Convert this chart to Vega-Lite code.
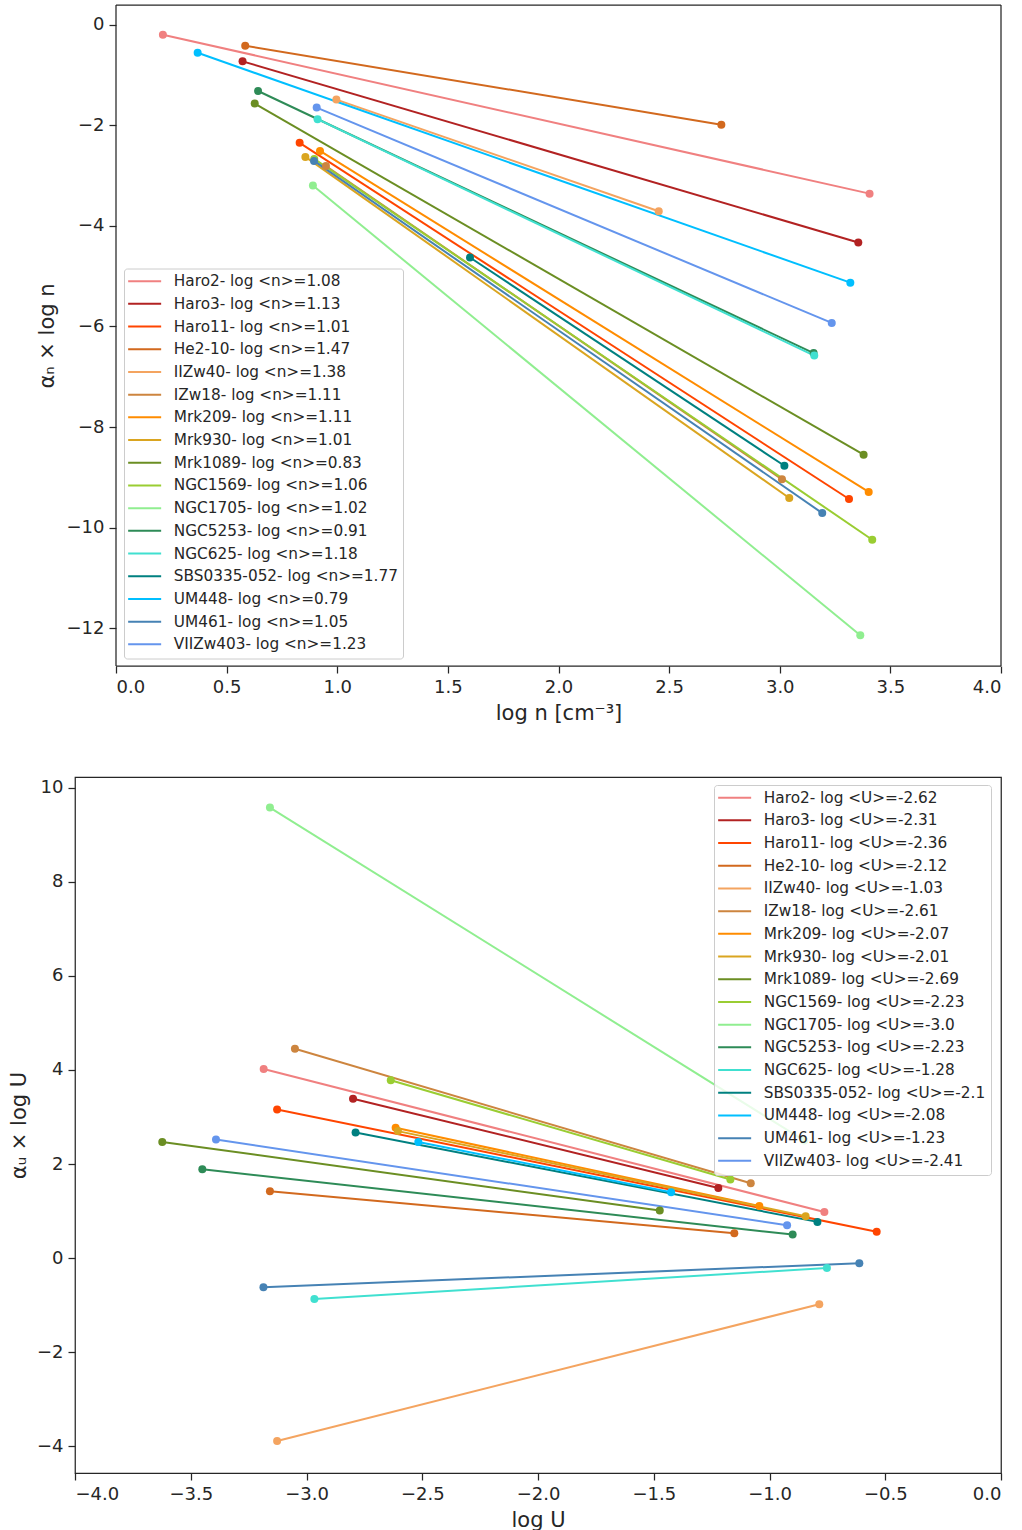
{
  "$schema": "https://vega.github.io/schema/vega-lite/v6.json",
  "padding": {"left": 4, "top": 4, "right": 0, "bottom": 0},
  "background": "white",
  "config": {
    "font": "DejaVu Sans",
    "view": {"stroke": "#262626", "strokeWidth": 1.25},
    "axis": {"grid": false, "domain": false, "tickColor": "#262626", "tickSize": 7, "tickWidth": 1.25, "labelColor": "#262626", "labelFontSize": 18, "titleColor": "#262626", "titleFontSize": 21, "titleFontWeight": "normal", "labelPadding": 5},
    "legend": {"title": null, "symbolType": "M-3,0H3", "symbolSize": 121, "symbolStrokeWidth": 2, "symbolOffset": 8, "labelFontSize": 15.3, "labelColor": "#262626", "labelOffset": 21.5, "padding": 5, "rowPadding": 6.7, "fillColor": "rgba(255,255,255,0.8)", "strokeColor": "#cccccc", "cornerRadius": 3, "labelLimit": 400}
  },
  "datasets": {
    "n": [
      {"galaxy": "Haro2", "label": "Haro2- log <n>=1.08", "x": 0.212, "y": -0.20},
      {"galaxy": "Haro2", "label": "Haro2- log <n>=1.08", "x": 3.406, "y": -3.36},
      {"galaxy": "Haro3", "label": "Haro3- log <n>=1.13", "x": 0.572, "y": -0.73},
      {"galaxy": "Haro3", "label": "Haro3- log <n>=1.13", "x": 3.355, "y": -4.33},
      {"galaxy": "Haro11", "label": "Haro11- log <n>=1.01", "x": 0.830, "y": -2.35},
      {"galaxy": "Haro11", "label": "Haro11- log <n>=1.01", "x": 3.313, "y": -9.43},
      {"galaxy": "He2-10", "label": "He2-10- log <n>=1.47", "x": 0.584, "y": -0.42},
      {"galaxy": "He2-10", "label": "He2-10- log <n>=1.47", "x": 2.736, "y": -1.99},
      {"galaxy": "IIZw40", "label": "IIZw40- log <n>=1.38", "x": 0.996, "y": -1.49},
      {"galaxy": "IIZw40", "label": "IIZw40- log <n>=1.38", "x": 2.453, "y": -3.71},
      {"galaxy": "IZw18", "label": "IZw18- log <n>=1.11", "x": 0.949, "y": -2.81},
      {"galaxy": "IZw18", "label": "IZw18- log <n>=1.11", "x": 3.010, "y": -9.04},
      {"galaxy": "Mrk209", "label": "Mrk209- log <n>=1.11", "x": 0.922, "y": -2.51},
      {"galaxy": "Mrk209", "label": "Mrk209- log <n>=1.11", "x": 3.402, "y": -9.29},
      {"galaxy": "Mrk930", "label": "Mrk930- log <n>=1.01", "x": 0.856, "y": -2.63},
      {"galaxy": "Mrk930", "label": "Mrk930- log <n>=1.01", "x": 3.043, "y": -9.41},
      {"galaxy": "Mrk1089", "label": "Mrk1089- log <n>=0.83", "x": 0.627, "y": -1.57},
      {"galaxy": "Mrk1089", "label": "Mrk1089- log <n>=0.83", "x": 3.379, "y": -8.55},
      {"galaxy": "NGC1569", "label": "NGC1569- log <n>=1.06", "x": 0.896, "y": -2.67},
      {"galaxy": "NGC1569", "label": "NGC1569- log <n>=1.06", "x": 3.418, "y": -10.24},
      {"galaxy": "NGC1705", "label": "NGC1705- log <n>=1.02", "x": 0.890, "y": -3.20},
      {"galaxy": "NGC1705", "label": "NGC1705- log <n>=1.02", "x": 3.364, "y": -12.14},
      {"galaxy": "NGC5253", "label": "NGC5253- log <n>=0.91", "x": 0.642, "y": -1.32},
      {"galaxy": "NGC5253", "label": "NGC5253- log <n>=0.91", "x": 3.153, "y": -6.53},
      {"galaxy": "NGC625", "label": "NGC625- log <n>=1.18", "x": 0.911, "y": -1.88},
      {"galaxy": "NGC625", "label": "NGC625- log <n>=1.18", "x": 3.156, "y": -6.58},
      {"galaxy": "SBS0335-052", "label": "SBS0335-052- log <n>=1.77", "x": 1.600, "y": -4.63},
      {"galaxy": "SBS0335-052", "label": "SBS0335-052- log <n>=1.77", "x": 3.021, "y": -8.77},
      {"galaxy": "UM448", "label": "UM448- log <n>=0.79", "x": 0.369, "y": -0.56},
      {"galaxy": "UM448", "label": "UM448- log <n>=0.79", "x": 3.319, "y": -5.13},
      {"galaxy": "UM461", "label": "UM461- log <n>=1.05", "x": 0.895, "y": -2.71},
      {"galaxy": "UM461", "label": "UM461- log <n>=1.05", "x": 3.192, "y": -9.71},
      {"galaxy": "VIIZw403", "label": "VIIZw403- log <n>=1.23", "x": 0.907, "y": -1.65},
      {"galaxy": "VIIZw403", "label": "VIIZw403- log <n>=1.23", "x": 3.235, "y": -5.93}
    ],
    "U": [
      {"galaxy": "Haro2", "label": "Haro2- log <U>=-2.62", "x": -3.185, "y": 4.02},
      {"galaxy": "Haro2", "label": "Haro2- log <U>=-2.62", "x": -0.763, "y": 0.98},
      {"galaxy": "Haro3", "label": "Haro3- log <U>=-2.31", "x": -2.799, "y": 3.39},
      {"galaxy": "Haro3", "label": "Haro3- log <U>=-2.31", "x": -1.221, "y": 1.49},
      {"galaxy": "Haro11", "label": "Haro11- log <U>=-2.36", "x": -3.127, "y": 3.16},
      {"galaxy": "Haro11", "label": "Haro11- log <U>=-2.36", "x": -0.537, "y": 0.56},
      {"galaxy": "He2-10", "label": "He2-10- log <U>=-2.12", "x": -3.158, "y": 1.42},
      {"galaxy": "He2-10", "label": "He2-10- log <U>=-2.12", "x": -1.152, "y": 0.53},
      {"galaxy": "IIZw40", "label": "IIZw40- log <U>=-1.03", "x": -3.127, "y": -3.89},
      {"galaxy": "IIZw40", "label": "IIZw40- log <U>=-1.03", "x": -0.785, "y": -0.98},
      {"galaxy": "IZw18", "label": "IZw18- log <U>=-2.61", "x": -3.050, "y": 4.45},
      {"galaxy": "IZw18", "label": "IZw18- log <U>=-2.61", "x": -1.081, "y": 1.59},
      {"galaxy": "Mrk209", "label": "Mrk209- log <U>=-2.07", "x": -2.615, "y": 2.77},
      {"galaxy": "Mrk209", "label": "Mrk209- log <U>=-2.07", "x": -1.044, "y": 1.11},
      {"galaxy": "Mrk930", "label": "Mrk930- log <U>=-2.01", "x": -2.605, "y": 2.70},
      {"galaxy": "Mrk930", "label": "Mrk930- log <U>=-2.01", "x": -0.844, "y": 0.89},
      {"galaxy": "Mrk1089", "label": "Mrk1089- log <U>=-2.69", "x": -3.623, "y": 2.47},
      {"galaxy": "Mrk1089", "label": "Mrk1089- log <U>=-2.69", "x": -1.474, "y": 1.01},
      {"galaxy": "NGC1569", "label": "NGC1569- log <U>=-2.23", "x": -2.636, "y": 3.78},
      {"galaxy": "NGC1569", "label": "NGC1569- log <U>=-2.23", "x": -1.169, "y": 1.67},
      {"galaxy": "NGC1705", "label": "NGC1705- log <U>=-3.0", "x": -3.158, "y": 9.58},
      {"galaxy": "NGC1705", "label": "NGC1705- log <U>=-3.0", "x": -0.850, "y": 2.50},
      {"galaxy": "NGC5253", "label": "NGC5253- log <U>=-2.23", "x": -3.450, "y": 1.89},
      {"galaxy": "NGC5253", "label": "NGC5253- log <U>=-2.23", "x": -0.900, "y": 0.50},
      {"galaxy": "NGC625", "label": "NGC625- log <U>=-1.28", "x": -2.966, "y": -0.87},
      {"galaxy": "NGC625", "label": "NGC625- log <U>=-1.28", "x": -0.752, "y": -0.21},
      {"galaxy": "SBS0335-052", "label": "SBS0335-052- log <U>=-2.1", "x": -2.788, "y": 2.67},
      {"galaxy": "SBS0335-052", "label": "SBS0335-052- log <U>=-2.1", "x": -0.793, "y": 0.77},
      {"galaxy": "UM448", "label": "UM448- log <U>=-2.08", "x": -2.517, "y": 2.47},
      {"galaxy": "UM448", "label": "UM448- log <U>=-2.08", "x": -1.425, "y": 1.40},
      {"galaxy": "UM461", "label": "UM461- log <U>=-1.23", "x": -3.186, "y": -0.62},
      {"galaxy": "UM461", "label": "UM461- log <U>=-1.23", "x": -0.612, "y": -0.11},
      {"galaxy": "VIIZw403", "label": "VIIZw403- log <U>=-2.41", "x": -3.391, "y": 2.52},
      {"galaxy": "VIIZw403", "label": "VIIZw403- log <U>=-2.41", "x": -0.924, "y": 0.70}
    ]
  },
  "spacing": 53,
  "resolve": {"scale": {"color": "independent"}, "legend": {"color": "independent"}},
  "vconcat": [
    {
      "width": 926,
      "height": 661,
      "view": {"stroke": null},
      "layer": [
        {
          "data": {"name": "n"},
          "mark": {"type": "line", "strokeWidth": 2},
          "encoding": {
            "x": {"field": "x", "type": "quantitative", "scale": {"domain": [0, 4], "range": [41, 926], "nice": false, "zero": false},
                  "axis": {"values": [0, 0.5, 1, 1.5, 2, 2.5, 3, 3.5, 4], "format": ".1f", "title": "log n [cm⁻³]", "titlePadding": 6}},
            "y": {"field": "y", "type": "quantitative", "scale": {"domain": [-12.75, 0.39], "nice": false, "zero": false},
                  "axis": {"values": [0, -2, -4, -6, -8, -10, -12], "title": "αₙ × log n", "offset": -41, "titleX": -69, "titleBaseline": "middle"}},
            "color": {"field": "label", "type": "nominal",
                      "scale": {"domain": ["Haro2- log <n>=1.08", "Haro3- log <n>=1.13", "Haro11- log <n>=1.01", "He2-10- log <n>=1.47", "IIZw40- log <n>=1.38", "IZw18- log <n>=1.11", "Mrk209- log <n>=1.11", "Mrk930- log <n>=1.01", "Mrk1089- log <n>=0.83", "NGC1569- log <n>=1.06", "NGC1705- log <n>=1.02", "NGC5253- log <n>=0.91", "NGC625- log <n>=1.18", "SBS0335-052- log <n>=1.77", "UM448- log <n>=0.79", "UM461- log <n>=1.05", "VIIZw403- log <n>=1.23"],
                                "range": ["#F08080", "#B22222", "#FF4500", "#D2691E", "#F4A460", "#CD853F", "#FF8C00", "#DAA520", "#6B8E23", "#9ACD32", "#90EE90", "#2E8B57", "#40E0D0", "#008080", "#00BFFF", "#4682B4", "#6495ED"]},
                      "legend": {"orient": "none", "legendX": 49, "legendY": 263.5}},
            "detail": {"field": "galaxy"}
          }
        },
        {
          "data": {"name": "n"},
          "mark": {"type": "point", "filled": true, "shape": "circle", "size": 64, "opacity": 1},
          "encoding": {
            "x": {"field": "x", "type": "quantitative"},
            "y": {"field": "y", "type": "quantitative"},
            "color": {"field": "label", "type": "nominal"}
          }
        },
        {
          "data": {"values": [{}]},
          "mark": {"type": "rule", "color": "#262626", "strokeWidth": 1.25},
          "encoding": {"x": {"datum": 0}}
        },
        {
          "data": {"values": [{}]},
          "mark": {"type": "rule", "color": "#262626", "strokeWidth": 1.25},
          "encoding": {"x": {"datum": 4}}
        },
        {
          "data": {"values": [{}]},
          "mark": {"type": "rule", "color": "#262626", "strokeWidth": 1.25},
          "encoding": {"y": {"datum": 0.39}, "x": {"datum": 0}, "x2": {"datum": 4}}
        },
        {
          "data": {"values": [{}]},
          "mark": {"type": "rule", "color": "#262626", "strokeWidth": 1.25},
          "encoding": {"y": {"datum": -12.75}, "x": {"datum": 0}, "x2": {"datum": 4}}
        }
      ]
    },
    {
      "width": 926,
      "height": 696,
      "data": {"name": "U"},
      "encoding": {
        "x": {"field": "x", "type": "quantitative", "scale": {"domain": [-4, 0], "nice": false, "zero": false},
              "axis": {"values": [-4, -3.5, -3, -2.5, -2, -1.5, -1, -0.5, 0], "format": ".1f", "title": "log U", "titlePadding": 6}},
        "y": {"field": "y", "type": "quantitative", "scale": {"domain": [-4.57, 10.23], "nice": false, "zero": false},
              "axis": {"values": [-4, -2, 0, 2, 4, 6, 8, 10], "title": "αᵤ × log U", "minExtent": 70, "titleX": -56, "titleBaseline": "middle"}},
        "color": {"field": "label", "type": "nominal",
                  "scale": {"domain": ["Haro2- log <U>=-2.62", "Haro3- log <U>=-2.31", "Haro11- log <U>=-2.36", "He2-10- log <U>=-2.12", "IIZw40- log <U>=-1.03", "IZw18- log <U>=-2.61", "Mrk209- log <U>=-2.07", "Mrk930- log <U>=-2.01", "Mrk1089- log <U>=-2.69", "NGC1569- log <U>=-2.23", "NGC1705- log <U>=-3.0", "NGC5253- log <U>=-2.23", "NGC625- log <U>=-1.28", "SBS0335-052- log <U>=-2.1", "UM448- log <U>=-2.08", "UM461- log <U>=-1.23", "VIIZw403- log <U>=-2.41"],
                            "range": ["#F08080", "#B22222", "#FF4500", "#D2691E", "#F4A460", "#CD853F", "#FF8C00", "#DAA520", "#6B8E23", "#9ACD32", "#90EE90", "#2E8B57", "#40E0D0", "#008080", "#00BFFF", "#4682B4", "#6495ED"]},
                  "legend": {"orient": "none", "legendX": 639, "legendY": 8}},
        "detail": {"field": "galaxy"}
      },
      "layer": [
        {"mark": {"type": "line", "strokeWidth": 2}},
        {"mark": {"type": "point", "filled": true, "shape": "circle", "size": 64, "opacity": 1}}
      ]
    }
  ]
}
